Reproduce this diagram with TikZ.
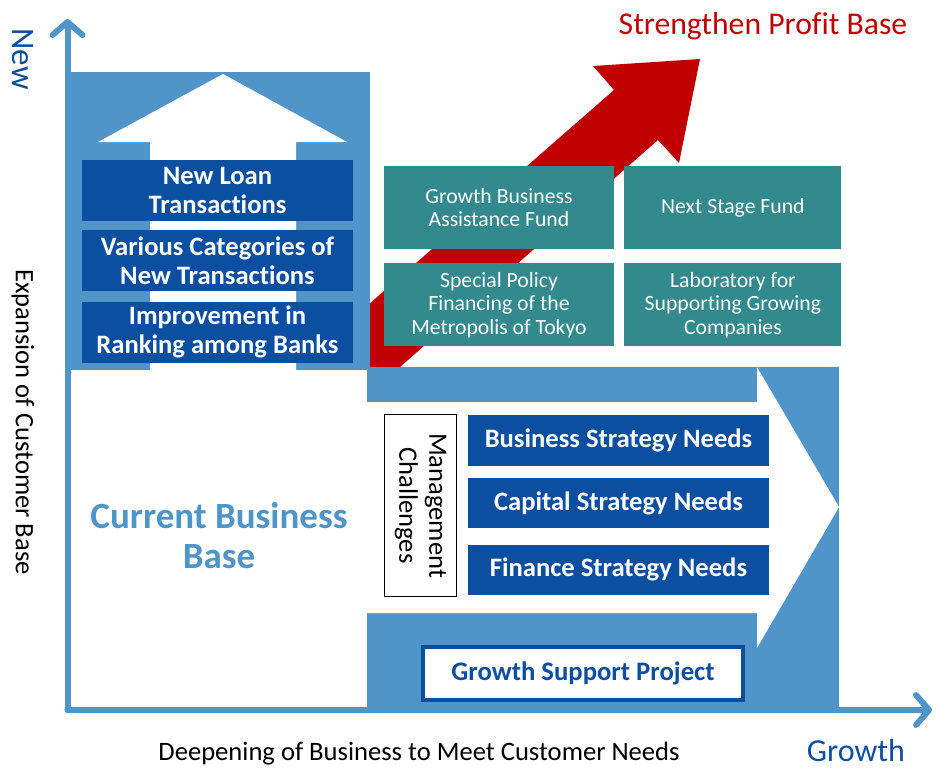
\documentclass[tikz,border=0pt]{standalone}
\usepackage{fontspec}
\setmainfont{Carlito}[Ligatures={CommonOff,RequiredOff}, Contextuals=AlternateOff]
\usetikzlibrary{positioning, arrows.meta}
\definecolor{bFill}{HTML}{4F95C9}
\definecolor{dFill}{HTML}{0C4FA0}
\definecolor{tFill}{HTML}{338A8E}
\definecolor{rFill}{HTML}{C00000}
\tikzset{
    Axis/.style = {
        line width=6pt, draw=bFill, line cap=round,
        -{Straight Barb[length=13pt, width=30pt, round]}
    },
    Need/.style = {
        fill=dFill, text=white, inner sep=0pt, align=center,
        font=\bfseries\fontsize{26.6}{29}\selectfont
    },
    Fund/.style = {
        fill=tFill, text=white, inner sep=0pt, align=center,
        minimum height=83pt, font=\fontsize{21.7}{23.5}\selectfont
    },
    Label/.style = {inner sep=0pt, font=\fontsize{26.6}{30}\selectfont}
}

\begin{document}
\begin{tikzpicture}[x=1pt, y=-1pt]
    \useasboundingbox (0,0) rectangle (937,769);
    \fill[rFill] (368,305) -- (614,90) -- (593,66) -- (700,59)
        -- (679,163) -- (658,140) -- (400,367) -- (368,367) -- cycle;
    \fill[bFill] (67,72) rectangle (370,370);
    \fill[white] (223,74) -- (347,142) -- (296,142) -- (296,370)
        -- (150,370) -- (150,142) -- (98,142) -- cycle;
    \fill[bFill] (367,367) rectangle (839,708);
    \fill[white] (367,402) -- (757,402) -- (757,367) -- (839,507)
        -- (757,648) -- (757,613) -- (367,613) -- cycle;

    \coordinate (origin) at (67.5,710);
    \coordinate (yEnd) at (67.5,19);
    \coordinate (xEnd) at (932,710);
    \draw[Axis] (origin) -- (yEnd);
    \draw[Axis] (origin) -- (xEnd);

    \node[Need, minimum width=271pt, minimum height=61pt] (loan) at (217.5,190.5) {New Loan\\Transactions};
    \node[Need, minimum width=271pt, minimum height=61pt, below=9pt of loan] (various) {Various Categories of\\New Transactions};
    \node[Need, minimum width=271pt, minimum height=61pt, below=10pt of various] (ranking) {Improvement in\\Ranking among Banks};

    \node[Fund, minimum width=230pt] (assist) at (499,207.5) {Growth Business\\Assistance Fund};
    \node[Fund, minimum width=217pt, right=10pt of assist] (nextstage) {Next Stage Fund};
    \node[Fund, minimum width=230pt, below=14pt of assist] (policy) {Special Policy\\Financing of the\\Metropolis of Tokyo};
    \node[Fund, minimum width=217pt, below=14pt of nextstage] (lab) {Laboratory for\\Supporting Growing\\Companies};

    \node[Need, minimum width=301pt, minimum height=51pt] (business) at (618.5,440.5) {Business Strategy Needs};
    \node[Need, minimum width=301pt, minimum height=50pt, below=12pt of business] (capital) {Capital Strategy Needs};
    \node[Need, minimum width=301pt, minimum height=50pt, below=16pt of capital] (finance) {Finance Strategy Needs};

    \node[Label, rotate=-90, draw=black, line width=1.5pt, fill=white, align=center,
        minimum width=182pt, minimum height=72pt] (challenges) at (420.5,505.5) {Management\\Challenges};
    \node[draw=dFill, line width=4pt, fill=white, text=dFill, inner sep=0pt,
        minimum width=320pt, minimum height=53pt, font=\bfseries\fontsize{26.7}{30}\selectfont] (project) at (583,673.5) {Growth Support Project};

    \node[text=bFill, align=center, inner sep=0pt, font=\bfseries\fontsize{37}{40}\selectfont] (current) at (219,536) {Current Business\\Base};
    \node[inner sep=0pt, text=rFill, font=\fontsize{31.7}{36}\selectfont, anchor=base] (profit) at (763,34) {Strengthen Profit Base};
    \node[inner sep=0pt, text=dFill, font=\fontsize{33}{36}\selectfont, rotate=-90] (new) at (23,59) {New};
    \node[inner sep=0pt, text=dFill, font=\fontsize{32}{36}\selectfont, anchor=base] (growth) at (856,761) {Growth};
    \node[Label, rotate=-90] (expansion) at (23,422) {Expansion of Customer Base};
    \node[Label, anchor=base] (deepening) at (419,760) {Deepening of Business to Meet Customer Needs};
\end{tikzpicture}
\end{document}
